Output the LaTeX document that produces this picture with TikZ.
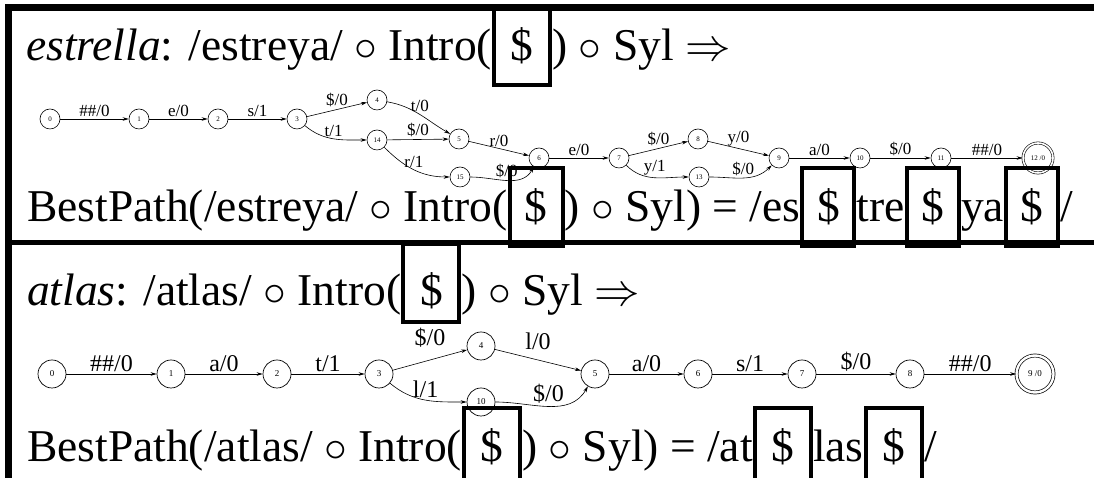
\documentclass[tikz,border=0pt]{standalone}
\usepackage{fix-cm}
\usepackage{fontspec}
\setmainfont{Liberation Serif}
\usetikzlibrary{arrows.meta,positioning}

\tikzset{
  big/.style={font=\fontsize{45.5}{50}\selectfont, inner sep=0pt, anchor=base west},
  dbox/.style={big, draw, line width=4pt, minimum width=56pt, minimum height=78pt},
  st1/.style={circle, draw, line width=0.6pt, minimum size=20pt, inner sep=0pt, font=\fontsize{7}{7}\selectfont},
  fin1/.style={st1, double, double distance=1.6pt, minimum size=30pt},
  st2/.style={circle, draw, line width=0.7pt, minimum size=28pt, inner sep=0pt, font=\fontsize{9}{9}\selectfont},
  fin2/.style={st2, double, double distance=2.4pt, minimum size=37pt},
  arr/.style={-{Stealth[length=6pt,width=3.5pt]}, line width=0.6pt},
  lb1/.style={font=\fontsize{17}{17}\selectfont, above, inner sep=2pt},
  lb2/.style={font=\fontsize{24}{24}\selectfont, above, inner sep=2pt},
}

\begin{document}
\begin{tikzpicture}[x=1pt, y=1pt]
\useasboundingbox (0,0) rectangle (1094,478);

% frame
\draw[line width=7pt] (8,0) -- (8,470) -- (1094,470);
\draw[line width=5pt] (8,235) -- (1094,235);

% estrella
\node[big] (e1) at (26,417) {\textit{estrella}: /estreya/ $\circ$ Intro(};
\node[dbox] (e1s) at (e1.base east) {\$};
\node[big] (e2) at (e1s.base east) {) $\circ$ Syl $\Rightarrow$};

\node[st1] (a0) at (50,359) {0};
\node[st1] (a1) at (139,359) {1};
\node[st1] (a2) at (218,359) {2};
\node[st1] (a3) at (297,359) {3};
\node[st1] (a4) at (377,378) {4};
\node[st1] (a14) at (377,338) {14};
\node[st1] (a5) at (459,339) {5};
\node[st1] (a15) at (460,301) {15};
\node[st1] (a6) at (539,320) {6};
\node[st1] (a7) at (619,320) {7};
\node[st1] (a8) at (698,339) {8};
\node[st1] (a13) at (699,301) {13};
\node[st1] (a9) at (779,320) {9};
\node[st1] (a10) at (860,320) {10};
\node[st1] (a11) at (941,320) {11};
\node[fin1] (a12) at (1038,320) {12 /0};

\draw[arr] (a0) -- node[lb1] {\#\#/0} (a1);
\draw[arr] (a1) -- node[lb1] {e/0} (a2);
\draw[arr] (a2) -- node[lb1] {s/1} (a3);
\draw[arr] (a3) -- node[lb1] {\$/0} (a4);
\draw[arr] (a3) to[out=-40,in=180] node[lb1] {t/1} (a14);
\draw[arr] (a4) to[out=-10,in=150] node[lb1] {t/0} (a5);
\draw[arr] (a14) -- node[lb1] {\$/0} (a5);
\draw[arr] (a14) to[out=-45,in=180] node[lb1] {r/1} (a15);
\draw[arr] (a5) -- node[lb1] {r/0} (a6);
\draw[arr] (a15) to[out=0,in=-120] node[lb1] {\$/0} (a6);
\draw[arr] (a6) -- node[lb1] {e/0} (a7);
\draw[arr] (a7) -- node[lb1] {\$/0} (a8);
\draw[arr] (a7) to[out=-45,in=180] node[lb1] {y/1} (a13);
\draw[arr] (a8) -- node[lb1] {y/0} (a9);
\draw[arr] (a13) to[out=0,in=-135] node[lb1] {\$/0} (a9);
\draw[arr] (a9) -- node[lb1] {a/0} (a10);
\draw[arr] (a10) -- node[lb1] {\$/0} (a11);
\draw[arr] (a11) -- node[lb1] {\#\#/0} (a12);

\node[big] (p1) at (27,256) {BestPath(/estreya/ $\circ$ Intro(};
\node[dbox, minimum width=53pt] (p1s) at (p1.base east) {\$};
\node[big] (p2) at (p1s.base east) {) $\circ$ Syl) = /es};
\node[dbox, minimum width=52pt] (p2s) at (p2.base east) {\$};
\node[big] (p3) at (p2s.base east) {tre};
\node[dbox, minimum width=52pt] (p3s) at (p3.base east) {\$};
\node[big] (p4) at (p3s.base east) {ya};
\node[dbox, minimum width=52pt] (p4s) at (p4.base east) {\$};
\node[big] (p5) at (p4s.base east) {/};

% atlas
\node[big] (t1) at (27,172) {\textit{atlas}: /atlas/ $\circ$ Intro(};
\node[dbox, text height=45pt, text depth=0pt] (t1s) at (t1.base east) {\$};
\node[big] (t2) at (t1s.base east) {) $\circ$ Syl $\Rightarrow$};

\node[st2] (b0) at (52,104) {0};
\node[st2] (b1) at (171,104) {1};
\node[st2] (b2) at (277,104) {2};
\node[st2] (b3) at (379,104) {3};
\node[st2] (b4) at (481,132) {4};
\node[st2] (b10) at (481,76) {10};
\node[st2] (b5) at (595,104) {5};
\node[st2] (b6) at (698,104) {6};
\node[st2] (b7) at (802,104) {7};
\node[st2] (b8) at (910,104) {8};
\node[fin2] (b9) at (1035,104) {9 /0};

\draw[arr] (b0) -- node[lb2] {\#\#/0} (b1);
\draw[arr] (b1) -- node[lb2] {a/0} (b2);
\draw[arr] (b2) -- node[lb2] {t/1} (b3);
\draw[arr] (b3) -- node[lb2, above=10pt] {\$/0} (b4);
\draw[arr] (b3) to[out=-40,in=180] node[lb2] {l/1} (b10);
\draw[arr] (b4) -- node[lb2, above=8pt] {l/0} (b5);
\draw[arr] (b10) to[out=0,in=-120] node[lb2] {\$/0} (b5);
\draw[arr] (b5) -- node[lb2] {a/0} (b6);
\draw[arr] (b6) -- node[lb2] {s/1} (b7);
\draw[arr] (b7) -- node[lb2] {\$/0} (b8);
\draw[arr] (b8) -- node[lb2] {\#\#/0} (b9);

\node[big] (q1) at (27,16) {BestPath(/atlas/ $\circ$ Intro(};
\node[dbox] (q1s) at (q1.base east) {\$};
\node[big] (q2) at (q1s.base east) {) $\circ$ Syl) = /at};
\node[dbox] (q2s) at (q2.base east) {\$};
\node[big] (q3) at (q2s.base east) {las};
\node[dbox] (q3s) at (q3.base east) {\$};
\node[big] (q4) at (q3s.base east) {/};
\end{tikzpicture}
\end{document}
